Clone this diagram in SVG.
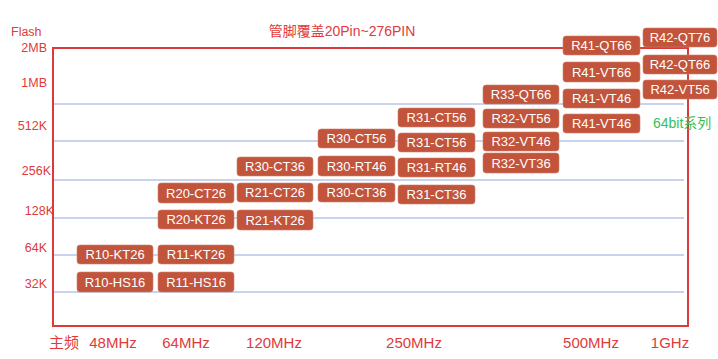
<svg xmlns="http://www.w3.org/2000/svg" width="718" height="359" viewBox="0 0 718 359">
<style>
.lbl{font-family:"Liberation Sans","Noto Sans CJK SC",sans-serif;font-size:12.5px;fill:#e03a3a}
.xl{font-family:"Liberation Sans","Noto Sans CJK SC",sans-serif;font-size:15px;fill:#e03a3a;text-anchor:middle}
.title{font-family:"Liberation Sans","Noto Sans CJK SC",sans-serif;font-size:14px;fill:#e03a3a;text-anchor:middle}
.grid{stroke:#b9c5e6;stroke-width:1.5;fill:none}
.frame{stroke:#dc3a3a;stroke-width:2;fill:none}
.box rect{fill:#c1543b;stroke:#d0826f;stroke-width:0.6}
.box text{font-family:"Liberation Sans",sans-serif;font-size:13px;fill:#ffffff;text-anchor:middle}
.green{font-family:"Liberation Sans","Noto Sans CJK SC",sans-serif;font-size:14px;fill:#35bf5a}
</style>
<rect width="718" height="359" fill="#ffffff"/>
<g id="axes">
<line class="grid" x1="53" y1="104" x2="684" y2="104"/>
<line class="grid" x1="53" y1="141" x2="684" y2="141"/>
<line class="grid" x1="53" y1="180" x2="684" y2="180"/>
<line class="grid" x1="53" y1="218" x2="684" y2="218"/>
<line class="grid" x1="53" y1="255" x2="684" y2="255"/>
<line class="grid" x1="53" y1="292" x2="684" y2="292"/>
<rect class="frame" x="53" y="48" width="635" height="278"/>
</g>
<g id="labels">
<text class="title" x="342" y="36">管脚覆盖20Pin~276PIN</text>
<text class="lbl" x="11" y="36">Flash</text>
<text class="lbl" x="47" y="52" text-anchor="end">2MB</text>
<text class="lbl" x="47" y="87" text-anchor="end">1MB</text>
<text class="lbl" x="47" y="130" text-anchor="end">512K</text>
<text class="lbl" x="51" y="175" text-anchor="end">256K</text>
<text class="lbl" x="54" y="215" text-anchor="end">128K</text>
<text class="lbl" x="47" y="252" text-anchor="end">64K</text>
<text class="lbl" x="47" y="288" text-anchor="end">32K</text>
<text class="xl" x="64" y="348">主频</text>
<text class="xl" x="113" y="348">48MHz</text>
<text class="xl" x="186" y="348">64MHz</text>
<text class="xl" x="274" y="348">120MHz</text>
<text class="xl" x="414" y="348">250MHz</text>
<text class="xl" x="591" y="348">500MHz</text>
<text class="xl" x="670" y="348">1GHz</text>
<text class="green" x="653" y="128">64bit系列</text>
</g>
<g id="connectors"/>
<g id="n-r10-kt26" class="box"><rect x="77" y="245" width="76" height="19" rx="3"/><text x="115" y="259">R10-KT26</text></g>
<g id="n-r10-hs16" class="box"><rect x="77" y="272" width="76" height="20" rx="3"/><text x="115" y="286.5">R10-HS16</text></g>
<g id="n-r11-kt26" class="box"><rect x="158" y="245" width="76" height="19" rx="3"/><text x="196" y="259">R11-KT26</text></g>
<g id="n-r11-hs16" class="box"><rect x="158" y="272" width="76" height="20" rx="3"/><text x="196" y="286.5">R11-HS16</text></g>
<g id="n-r20-ct26" class="box"><rect x="158" y="183" width="76" height="20" rx="3"/><text x="196" y="197.5">R20-CT26</text></g>
<g id="n-r20-kt26" class="box"><rect x="158" y="210" width="76" height="19" rx="3"/><text x="196" y="224">R20-KT26</text></g>
<g id="n-r30-ct36-a" class="box"><rect x="237" y="157" width="76" height="19" rx="3"/><text x="275" y="171">R30-CT36</text></g>
<g id="n-r21-ct26" class="box"><rect x="237" y="183" width="76" height="19" rx="3"/><text x="275" y="197">R21-CT26</text></g>
<g id="n-r21-kt26" class="box"><rect x="237" y="210" width="76" height="20" rx="3"/><text x="275" y="224.5">R21-KT26</text></g>
<g id="n-r30-ct56" class="box"><rect x="318" y="129" width="77" height="19" rx="3"/><text x="356.5" y="143">R30-CT56</text></g>
<g id="n-r30-rt46" class="box"><rect x="318" y="156" width="77" height="20" rx="3"/><text x="356.5" y="170.5">R30-RT46</text></g>
<g id="n-r30-ct36-b" class="box"><rect x="318" y="183" width="77" height="19" rx="3"/><text x="356.5" y="197">R30-CT36</text></g>
<g id="n-r31-ct56-a" class="box"><rect x="398" y="108" width="77" height="19" rx="3"/><text x="436.5" y="122">R31-CT56</text></g>
<g id="n-r31-ct56-b" class="box"><rect x="398" y="133" width="77" height="19" rx="3"/><text x="436.5" y="147">R31-CT56</text></g>
<g id="n-r31-rt46" class="box"><rect x="398" y="158" width="77" height="19" rx="3"/><text x="436.5" y="172">R31-RT46</text></g>
<g id="n-r31-ct36" class="box"><rect x="398" y="185" width="77" height="19" rx="3"/><text x="436.5" y="199">R31-CT36</text></g>
<g id="n-r33-qt66" class="box"><rect x="483" y="85" width="76" height="19" rx="3"/><text x="521" y="99">R33-QT66</text></g>
<g id="n-r32-vt56" class="box"><rect x="483" y="109" width="76" height="19" rx="3"/><text x="521" y="123">R32-VT56</text></g>
<g id="n-r32-vt46" class="box"><rect x="483" y="132" width="76" height="19" rx="3"/><text x="521" y="146">R32-VT46</text></g>
<g id="n-r32-vt36" class="box"><rect x="483" y="153" width="76" height="20" rx="3"/><text x="521" y="167.5">R32-VT36</text></g>
<g id="n-r41-qt66" class="box"><rect x="563" y="36" width="77" height="19" rx="3"/><text x="601.5" y="50">R41-QT66</text></g>
<g id="n-r41-vt66" class="box"><rect x="563" y="62" width="77" height="20" rx="3"/><text x="601.5" y="76.5">R41-VT66</text></g>
<g id="n-r41-vt46-a" class="box"><rect x="563" y="89" width="77" height="19" rx="3"/><text x="601.5" y="103">R41-VT46</text></g>
<g id="n-r41-vt46-b" class="box"><rect x="563" y="114" width="77" height="19" rx="3"/><text x="601.5" y="128">R41-VT46</text></g>
<g id="n-r42-qt76" class="box"><rect x="643" y="28" width="74" height="19" rx="3"/><text x="680" y="42">R42-QT76</text></g>
<g id="n-r42-qt66" class="box"><rect x="643" y="55" width="74" height="19" rx="3"/><text x="680" y="69">R42-QT66</text></g>
<g id="n-r42-vt56" class="box"><rect x="643" y="80" width="74" height="19" rx="3"/><text x="680" y="94">R42-VT56</text></g>
</svg>
